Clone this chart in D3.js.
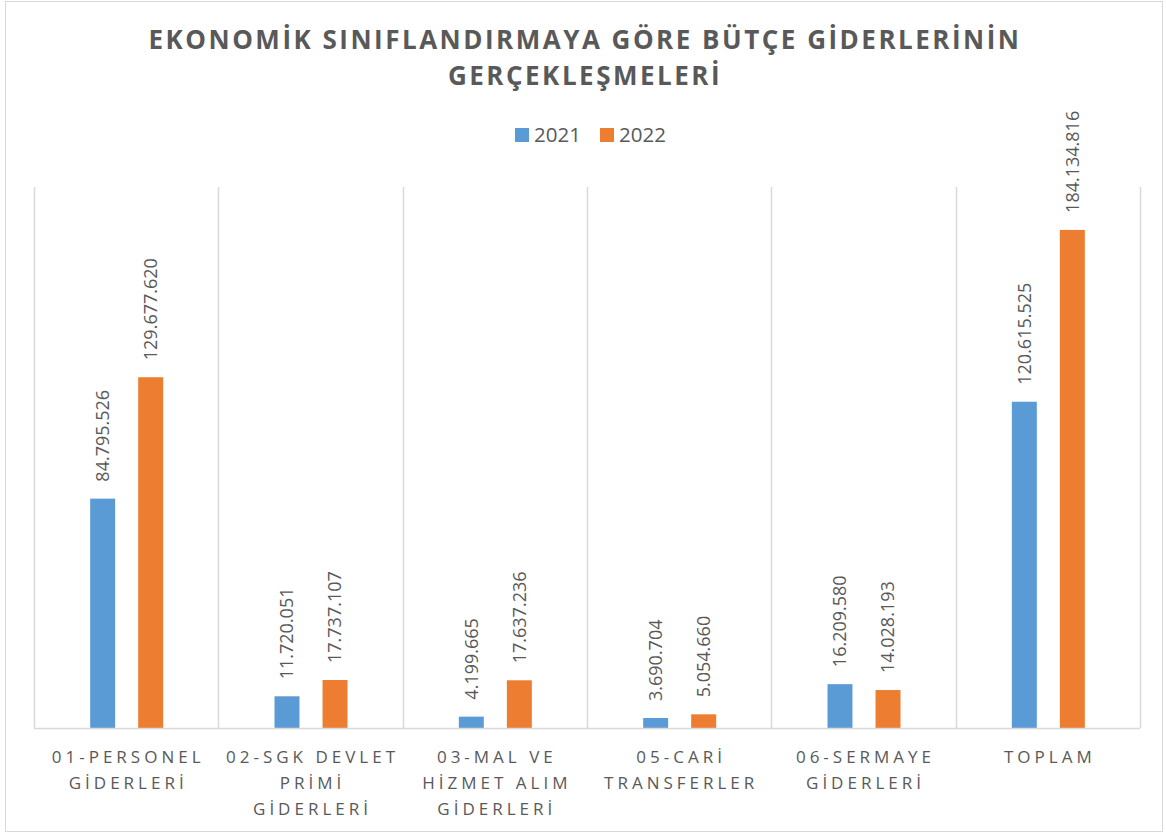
<!DOCTYPE html>
<html>
<head>
<meta charset="utf-8">
<script src="https://cdn.jsdelivr.net/npm/d3@7"></script>
<style>
  body { margin: 0; background: #fff; }
  svg text { font-family: "Open Sans", "Noto Sans", sans-serif; fill: #595959; }
</style>
</head>
<body>
<svg id="chart" width="1166" height="834"></svg>
<script>
// chart data
var categories = [
  ['01-PERSONEL', 'GİDERLERİ'],
  ['02-SGK DEVLET', 'PRİMİ', 'GİDERLERİ'],
  ['03-MAL VE', 'HİZMET ALIM', 'GİDERLERİ'],
  ['05-CARİ', 'TRANSFERLER'],
  ['06-SERMAYE', 'GİDERLERİ'],
  ['TOPLAM']
];
var seriesNames = ['2021', '2022'];
var values2021 = [84795526, 11720051, 4199665, 3690704, 16209580, 120615525];
var values2022 = [129677620, 17737107, 17637236, 5054660, 14028193, 184134816];
var colors = ['#5b9bd5', '#ed7d31'];

var svg = d3.select('#chart');

// outer border
svg.append('rect')
  .attr('x', 5.5).attr('y', 1.5)
  .attr('width', 1157).attr('height', 830)
  .attr('fill', 'none')
  .attr('stroke', '#d9d9d9');

// title
var title = svg.append('text')
  .attr('text-anchor', 'middle')
  .style('font-size', '26px')
  .style('font-weight', 'bold')
  .style('letter-spacing', '2.5px');
title.append('tspan').attr('x', 585).attr('y', 49).text('EKONOMİK SINIFLANDIRMAYA GÖRE BÜTÇE GİDERLERİNİN');
title.append('tspan').attr('x', 585).attr('y', 85).text('GERÇEKLEŞMELERİ');

// legend
var legendX = [515, 600];
seriesNames.forEach(function (name, i) {
  svg.append('rect')
    .attr('x', legendX[i]).attr('y', 128)
    .attr('width', 14).attr('height', 14)
    .attr('fill', colors[i]);
  svg.append('text')
    .attr('x', legendX[i] + 19).attr('y', 142)
    .style('font-size', '20.5px')
    .text(name);
});

var plotLeft = 34, plotRight = 1140, plotTop = 187, plotBottom = 728;

var x0 = d3.scaleBand()
  .domain(d3.range(categories.length))
  .range([plotLeft, plotRight])
  .padding(0);

var groupW = 73;
var x1 = d3.scaleBand()
  .domain(d3.range(seriesNames.length))
  .range([0, groupW])
  .paddingInner(0.48);

var y = d3.scaleLinear()
  .domain([0, 200000000])
  .range([plotBottom, plotTop]);

// vertical gridlines between categories
var edges = d3.range(categories.length + 1).map(function (i) {
  return i < categories.length ? x0(i) : plotRight;
});
svg.selectAll('.vgrid')
  .data(edges)
  .enter().append('line')
  .attr('x1', function (d) { return Math.round(d) + 0.5; })
  .attr('x2', function (d) { return Math.round(d) + 0.5; })
  .attr('y1', plotTop).attr('y2', plotBottom)
  .attr('stroke', '#d9d9d9')
  .attr('stroke-width', 1.5);

// bars
var rows = categories.map(function (c, i) {
  return [values2021[i], values2022[i]];
});

var groups = svg.selectAll('.grp')
  .data(rows)
  .enter().append('g')
  .attr('transform', function (d, i) {
    return 'translate(' + (x0(i) + (x0.bandwidth() - groupW) / 2 + 0.5) + ',0)';
  });

groups.selectAll('rect')
  .data(function (d) { return d; })
  .enter().append('rect')
  .attr('x', function (d, j) { return x1(j); })
  .attr('y', function (d) { return y(d); })
  .attr('width', x1.bandwidth())
  .attr('height', function (d) { return plotBottom - y(d); })
  .attr('fill', function (d, j) { return colors[j]; });

var fmt = function (v) {
  return String(v).replace(/\B(?=(\d{3})+(?!\d))/g, '.');
};

groups.selectAll('.lbl')
  .data(function (d) { return d; })
  .enter().append('text')
  .attr('transform', function (d, j) {
    return 'translate(' + (x1(j) + x1.bandwidth() / 2) + ',' + (y(d) - 17) + ') rotate(-90)';
  })
  .attr('dy', '0.35em')
  .style('font-size', '18px')
  .text(fmt);

// baseline
svg.append('line')
  .attr('x1', plotLeft).attr('x2', plotRight)
  .attr('y1', plotBottom + 0.5).attr('y2', plotBottom + 0.5)
  .attr('stroke', '#d9d9d9')
  .attr('stroke-width', 1.5);

// category labels
categories.forEach(function (lines, i) {
  var t = svg.append('text')
    .attr('text-anchor', 'middle')
    .style('font-size', '17px')
    .style('letter-spacing', '4px');
  lines.forEach(function (ln, k) {
    t.append('tspan')
      .attr('x', x0(i) + x0.bandwidth() / 2 + 2)
      .attr('y', 763 + k * 26)
      .text(ln);
  });
});
</script>
</body>
</html>
